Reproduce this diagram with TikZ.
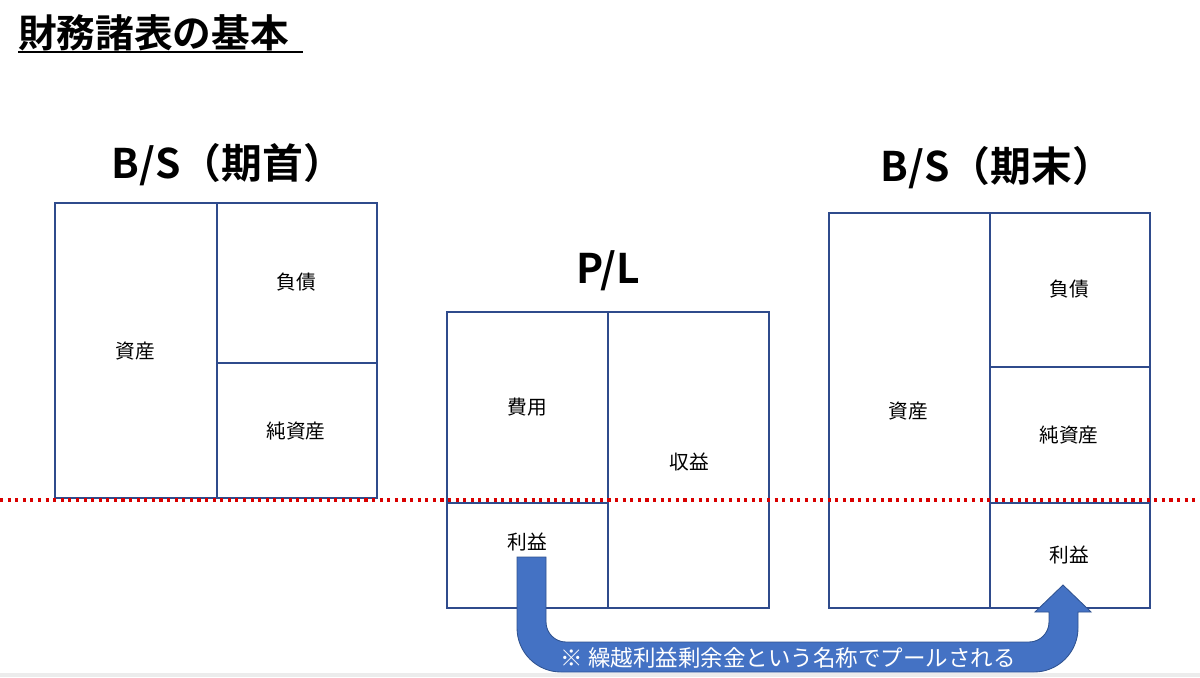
\documentclass[tikz,border=0pt]{standalone}
\usepackage{fontspec}
\setmainfont{Noto Sans CJK JP}[BoldFont={Noto Sans CJK JP Bold}]
\begin{document}
\begin{tikzpicture}[x=0.025cm,y=-0.025cm,
  box/.style={draw=boxc,line width=2pt},
  lbl/.style={font=\fontsize{14}{16}\selectfont},
  head/.style={font=\fontsize{29}{32}\selectfont\bfseries}]
\definecolor{boxc}{HTML}{2F4B8C}
\definecolor{arrc}{HTML}{4472C4}
\definecolor{arrd}{HTML}{2F528F}
\useasboundingbox (0,0) rectangle (1200,677);
\fill[gray!15] (0,673) rectangle (1200,677);
% title
\node[anchor=west,inner sep=0,font=\fontsize{27.5}{30}\selectfont\bfseries] (title) at (18,33) {財務諸表の基本};
\draw[line width=1.6pt] (18,52) -- (303,52);
% headings
\node[head] (h1) at (228,165) {B/S（期首）};
\node[head] (h2) at (608,271) {P/L};
\node[head] (h3) at (997,168) {B/S（期末）};
% left BS
\draw[box] (55,203) rectangle (377,498);
\draw[box] (217,203) -- (217,498);
\draw[box] (217,363) -- (377,363);
% PL
\draw[box] (447,312) rectangle (769,608);
\draw[box] (608,312) -- (608,608);
\draw[box] (447,503) -- (608,503);
% right BS
\draw[box] (829,213) rectangle (1150,608);
\draw[box] (990,213) -- (990,608);
\draw[box] (990,367) -- (1150,367);
\draw[box] (990,503) -- (1150,503);
% red dotted line
\draw[red!85!black,line width=2.2pt,dash pattern=on 2.2pt off 3.2pt] (0,500) -- (1200,500);
% labels
\node[lbl] (a1) at (135,351) {資産};
\node[lbl] (l1) at (296,282) {負債};
\node[lbl] (e1) at (296,431) {純資産};
\node[lbl] (c) at (527,407) {費用};
\node[lbl] (r) at (689,462) {収益};
\node[lbl] (p1) at (527,542) {利益};
\node[lbl] (a2) at (908,411) {資産};
\node[lbl] (l2) at (1069,289) {負債};
\node[lbl] (e2) at (1069,435) {純資産};
\node[lbl] (p2) at (1069,555) {利益};
% arrow
\filldraw[fill=arrc,draw=arrd,line width=0.6pt] (517,557) [rounded corners=1.1cm] -- (517,672) -- (1078,672) [sharp corners] -- (1078,612) -- (1091,612) -- (1063,585) -- (1035,612) -- (1049,612) [rounded corners=0.5cm] -- (1049,642) -- (546,642) [sharp corners] -- (546,557) -- cycle;
\node[text=white,font=\fontsize{16}{18}\selectfont] (note) at (788,658) {※ 繰越利益剰余金という名称でプールされる};
\end{tikzpicture}
\end{document}
